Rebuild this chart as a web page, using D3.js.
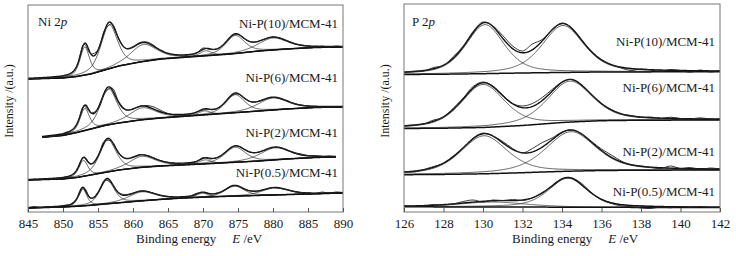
<!DOCTYPE html>
<html>
<head>
<meta charset="utf-8">
<script src="https://cdn.jsdelivr.net/npm/d3@7"></script>
</head>
<body style="margin:0; background:#fff">
<svg id="chart" width="736" height="256" font-family="Liberation Serif"></svg>
<script>
// ---- data (intensity in arbitrary units, spectra stacked) ----
const sampleLabels = ["Ni-P(10)/MCM-41", "Ni-P(6)/MCM-41", "Ni-P(2)/MCM-41", "Ni-P(0.5)/MCM-41"];

// Ni 2p panel
const niTicks = [845, 850, 855, 860, 865, 870, 875, 880, 885, 890];
const niBgE = [845, 850, 852, 854, 856, 858, 861, 864, 867, 870, 874, 878, 882, 886, 890];
const niBg10 = [133, 134, 135.5, 138, 142, 146, 150, 153, 154.5, 156, 158, 161, 163, 164.5, 165];
const niBg6 = [73.5, 76.5, 79.5, 83, 86.5, 89, 92, 94, 95.5, 97, 99, 101, 103, 104.5, 105];
const niBg2 = [32, 33, 34.5, 37, 39.5, 42, 44.5, 46, 47, 48, 49.5, 51, 53, 54.5, 55.2];
const niBg05 = [4, 5, 5.7, 6.7, 8, 9.2, 11, 12.6, 13.9, 14.8, 15.8, 16.6, 17.4, 18.2, 19];
// fitted components: [centre eV, height, FWHM eV]
const niPeaks10 = [[853.1, 28, 1.6], [856.6, 44, 2.8], [861.5, 17, 4.5], [870.4, 5, 2], [874.6, 18, 3.2], [880.0, 12, 5]];
const niPeaks6 = [[853.1, 22, 1.6], [856.5, 36, 2.8], [861.4, 12, 4.5], [870.2, 4, 2], [874.6, 18, 3.2], [880.0, 12, 5]];
const niPeaks2 = [[852.9, 16, 1.5], [856.4, 32, 2.8], [861.3, 11, 4.5], [870.3, 4, 2], [874.6, 15, 3.5], [880.3, 12, 5]];
const niPeaks05 = [[852.8, 17, 1.4], [856.3, 24, 2.4], [861.3, 9, 4.5], [869.9, 4, 2], [874.5, 10, 3.2], [880.3, 7, 4.5]];
// measured points, 1 eV apart
const niRaw10 = [133.5, 133.6, 133.8, 134.5, 134.6, 136, 138, 146, 168, 158, 162, 182.5, 188, 173, 163.5, 165.5,
  169.5, 170, 166.5, 161, 158.5, 157, 156.2, 157, 158.5, 164, 162.5, 163, 167.5, 175.5, 177.5, 173, 170, 171,
  173.5, 175, 174, 171.5, 168.5, 167, 166, 165, 166, 165, 166, 165];
const niRaw6 = [74.5, 75.5, 76, 78, 80.5, 88, 106, 99, 103, 119.5, 124, 110, 102.5, 103, 106, 106.5, 105, 101.5,
  98.5, 97, 97, 97.5, 99.5, 102, 102.5, 103.5, 108.5, 116, 118, 113.5, 110, 111, 113, 114.5, 113.5, 111.5,
  108.5, 107, 106, 105.5, 105, 105.5, 105.2, 105.2];
const niRaw2 = [32.3, 32.8, 32.6, 33.4, 33.5, 34.4, 36, 42, 55, 48, 56, 71.5, 70.5, 58.5, 53.5, 55, 57.5, 56.5,
  54, 51, 49.5, 48.5, 48, 48.5, 50, 54.5, 53, 54.5, 58.5, 64.5, 66, 62.5, 59.5, 60, 62.5, 64.5, 64.5, 62,
  59.5, 58, 56.5, 56.5, 55.5, 56, 55.3];
const niRaw05 = [4.5, 5.5, 4.2, 5.6, 4.6, 6.5, 7.5, 13.5, 24, 13.5, 19, 32, 28, 19, 17.5, 19, 21, 20.5, 18.5,
  16.5, 15.5, 14.5, 15, 15.5, 18.5, 19.5, 18, 19, 21.5, 25.5, 26, 22.5, 21, 21, 23, 24.5, 23.5, 22.5, 20.5,
  19.5, 19, 18.5, 20, 19, 20, 19.5];
const niStart = [845, 847, 845, 845];
const niEnd = [890, 890, 889, 890];

// P 2p panel
const pTicks = [126, 128, 130, 132, 134, 136, 138, 140, 142];
const pBgE = [126, 128, 130, 131, 132, 133, 134, 135, 136, 138, 142];
const pBg10 = [137.5, 137.8, 138.3, 138.7, 139, 139.3, 139.5, 139.8, 140, 140.1, 140.3];
const pBg6 = [83.5, 83.8, 84.5, 85.5, 86.5, 88, 89.5, 90.5, 91.3, 91.8, 92];
const pBg2 = [37.3, 37.6, 38.2, 38.7, 39.3, 40, 40.6, 41.1, 41.5, 41.8, 42];
const pBg05 = [5.2, 5.1, 5.0, 5.0, 4.9, 4.9, 4.8, 4.8, 4.7, 4.6, 4.4];
const pPeaks10 = [[130.1, 49, 2.3], [134.05, 47, 2.5]];
const pPeaks6 = [[130.0, 43, 2.6], [134.4, 41, 2.7]];
const pPeaks2 = [[130.05, 38, 2.8], [134.45, 39.5, 3.0]];
const pPeaks05 = [[130.5, 5, 4.0], [134.3, 29, 2.3]];
// measured points, 0.5 eV apart from 126 to 142
const pRaw10 = [140, 140.8, 141, 144.5, 146.5, 155.5, 166, 180.5, 190, 186, 176.5, 166, 161, 168, 172.5, 182,
  189, 184, 172, 160.5, 152.5, 147.5, 144, 141.5, 143, 142, 140.5, 142.5, 141.5, 139.8, 142, 140, 141.5];
const pRaw6 = [86.5, 87, 88, 92, 94.5, 104, 114, 125.5, 130, 126, 117, 108.5, 106, 108.5, 114.5, 122.5, 130,
  132.5, 126.5, 117.5, 108, 102.5, 98, 96.5, 94.5, 95, 93.5, 94.8, 93.5, 93, 94.2, 93, 93.5];
const pRaw2 = [40.5, 40, 42.5, 45.5, 48.5, 55, 64, 74, 79, 76, 70.5, 63.5, 59, 63.5, 69.5, 74, 80, 82, 78,
  70.5, 63, 57, 51, 47, 46, 44.5, 43.5, 46, 43.5, 44.5, 42.8, 44, 43];
const pRaw05 = [6.5, 5.5, 6, 7.5, 7, 8, 10.5, 12, 10, 12, 11.5, 12.5, 11.5, 14, 19.5, 25.5, 33, 34, 28.5, 19,
  12, 8.5, 6, 5.5, 4, 3.5, 5, 4.2, 5.5, 4.5, 5.5, 4.8, 5];

// label positions (y in plot units)
const niLabelY = [184.5, 130.5, 75.5, 35.5];
const pLabelY = [166, 120, 56, 16];

const FONT = "Liberation Serif";
const svg = d3.select("#chart");

// mixed Gaussian-Lorentzian line shape used by the fit
const gl = (e, c, h, w) => {
  const r = (e - c) / w;
  return h * (0.5 / (1 + 4 * r * r) + 0.5 * Math.exp(-4 * Math.LN2 * r * r));
};

const yScale = d3.scaleLinear().domain([0, 208]).range([212, 4]);

function drawPanel(cfg) {
  const { left, right, top, bottom, xDomain, ticks, spectra, step } = cfg;
  const x = d3.scaleLinear().domain(xDomain).range([left, right]);
  const g = svg.append("g");

  g.append("clipPath").attr("id", cfg.id + "-clip")
    .append("rect")
    .attr("x", left).attr("y", top)
    .attr("width", right - left).attr("height", bottom - top);

  const plot = g.append("g").attr("clip-path", `url(#${cfg.id}-clip)`);

  spectra.forEach((s) => {
    const bg = d3.scaleLinear().domain(s.bgE).range(s.bg);
    const grid = d3.range(s.start, s.end + step / 2, step);
    const line = d3.line().x(d => x(d[0])).y(d => yScale(d[1]));

    // components sitting on the background
    s.peaks.forEach((p) => {
      plot.append("path")
        .datum(grid.map(e => [e, bg(e) + gl(e, p[0], p[1], p[2])]))
        .attr("d", line)
        .attr("fill", "none")
        .attr("stroke", "#222")
        .attr("stroke-width", 0.7);
    });

    // background
    plot.append("path")
      .datum(grid.map(e => [e, bg(e)]))
      .attr("d", line)
      .attr("fill", "none")
      .attr("stroke", "#111")
      .attr("stroke-width", 1.5);

    // envelope
    plot.append("path")
      .datum(grid.map(e => [e, bg(e) + d3.sum(s.peaks, p => gl(e, p[0], p[1], p[2]))]))
      .attr("d", line)
      .attr("fill", "none")
      .attr("stroke", "#111")
      .attr("stroke-width", 1.4);

    // measured data
    const rawPts = s.raw.map((v, i) => [s.rawStart + i * s.rawStep, v]);
    plot.append("path")
      .datum(rawPts)
      .attr("d", d3.line().x(d => x(d[0])).y(d => yScale(d[1])).curve(d3.curveCatmullRom))
      .attr("fill", "none")
      .attr("stroke", "#222")
      .attr("stroke-width", 0.9);
  });

  // frame
  g.append("rect")
    .attr("x", left).attr("y", top)
    .attr("width", right - left).attr("height", bottom - top)
    .attr("fill", "none")
    .attr("stroke", "#777")
    .attr("stroke-width", 1);

  // bottom axis, ticks pointing inward
  const axis = g.append("g")
    .attr("transform", `translate(0,${bottom})`)
    .call(d3.axisBottom(x).tickValues(ticks).tickSize(-4).tickSizeOuter(0).tickPadding(7));
  axis.attr("font-family", FONT).attr("font-size", 13);
  axis.select(".domain").remove();
  axis.selectAll(".tick line").attr("stroke", "#555");
  axis.selectAll(".tick text").attr("fill", "#1a1a1a");

  // sample labels
  g.selectAll(".lbl")
    .data(sampleLabels)
    .enter()
    .append("text")
    .attr("class", "lbl")
    .attr("x", cfg.labelX)
    .attr("y", (d, i) => yScale(cfg.labelY[i]))
    .attr("text-anchor", "end")
    .attr("font-family", FONT)
    .attr("font-size", 13)
    .attr("fill", "#1a1a1a")
    .text(d => d);

  // panel title, e.g. "Ni 2p"
  const t = g.append("text")
    .attr("x", left + cfg.titleDx)
    .attr("y", 25.5)
    .attr("font-family", FONT)
    .attr("font-size", 13)
    .attr("fill", "#1a1a1a");
  t.append("tspan").text(cfg.title + " 2");
  t.append("tspan").attr("font-style", "italic").text("p");

  // x title
  const xt = g.append("text")
    .attr("x", left + 108)
    .attr("y", 243)
    .attr("font-family", FONT)
    .attr("font-size", 13)
    .attr("fill", "#1a1a1a");
  xt.append("tspan").text("Binding energy");
  xt.append("tspan").attr("dx", 16).attr("font-style", "italic").text("E");
  xt.append("tspan").text(" /eV");

  // y title
  g.append("text")
    .attr("transform", `translate(${left - 15},101) rotate(-90)`)
    .attr("text-anchor", "middle")
    .attr("font-family", FONT)
    .attr("font-size", 12)
    .attr("fill", "#1a1a1a")
    .text("Intensity /(a.u.)");
}

drawPanel({
  id: "ni", left: 28, right: 343, top: 5, bottom: 212,
  xDomain: [845, 890], ticks: niTicks, step: 0.1,
  title: "Ni", titleDx: 10, labelX: 338, labelY: niLabelY,
  spectra: [
    { bgE: niBgE, bg: niBg10, peaks: niPeaks10, raw: niRaw10, rawStart: niStart[0], rawStep: 1, start: niStart[0], end: niEnd[0] },
    { bgE: niBgE, bg: niBg6, peaks: niPeaks6, raw: niRaw6, rawStart: niStart[1], rawStep: 1, start: niStart[1], end: niEnd[1] },
    { bgE: niBgE, bg: niBg2, peaks: niPeaks2, raw: niRaw2, rawStart: niStart[2], rawStep: 1, start: niStart[2], end: niEnd[2] },
    { bgE: niBgE, bg: niBg05, peaks: niPeaks05, raw: niRaw05, rawStart: niStart[3], rawStep: 1, start: niStart[3], end: niEnd[3] }
  ]
});

drawPanel({
  id: "p", left: 404, right: 720, top: 4, bottom: 212,
  xDomain: [126, 142], ticks: pTicks, step: 0.05,
  title: "P", titleDx: 8, labelX: 715, labelY: pLabelY,
  spectra: [
    { bgE: pBgE, bg: pBg10, peaks: pPeaks10, raw: pRaw10, rawStart: 126, rawStep: 0.5, start: 126, end: 142 },
    { bgE: pBgE, bg: pBg6, peaks: pPeaks6, raw: pRaw6, rawStart: 126, rawStep: 0.5, start: 126, end: 142 },
    { bgE: pBgE, bg: pBg2, peaks: pPeaks2, raw: pRaw2, rawStart: 126, rawStep: 0.5, start: 126, end: 142 },
    { bgE: pBgE, bg: pBg05, peaks: pPeaks05, raw: pRaw05, rawStart: 126, rawStep: 0.5, start: 126, end: 142 }
  ]
});
</script>
</body>
</html>
